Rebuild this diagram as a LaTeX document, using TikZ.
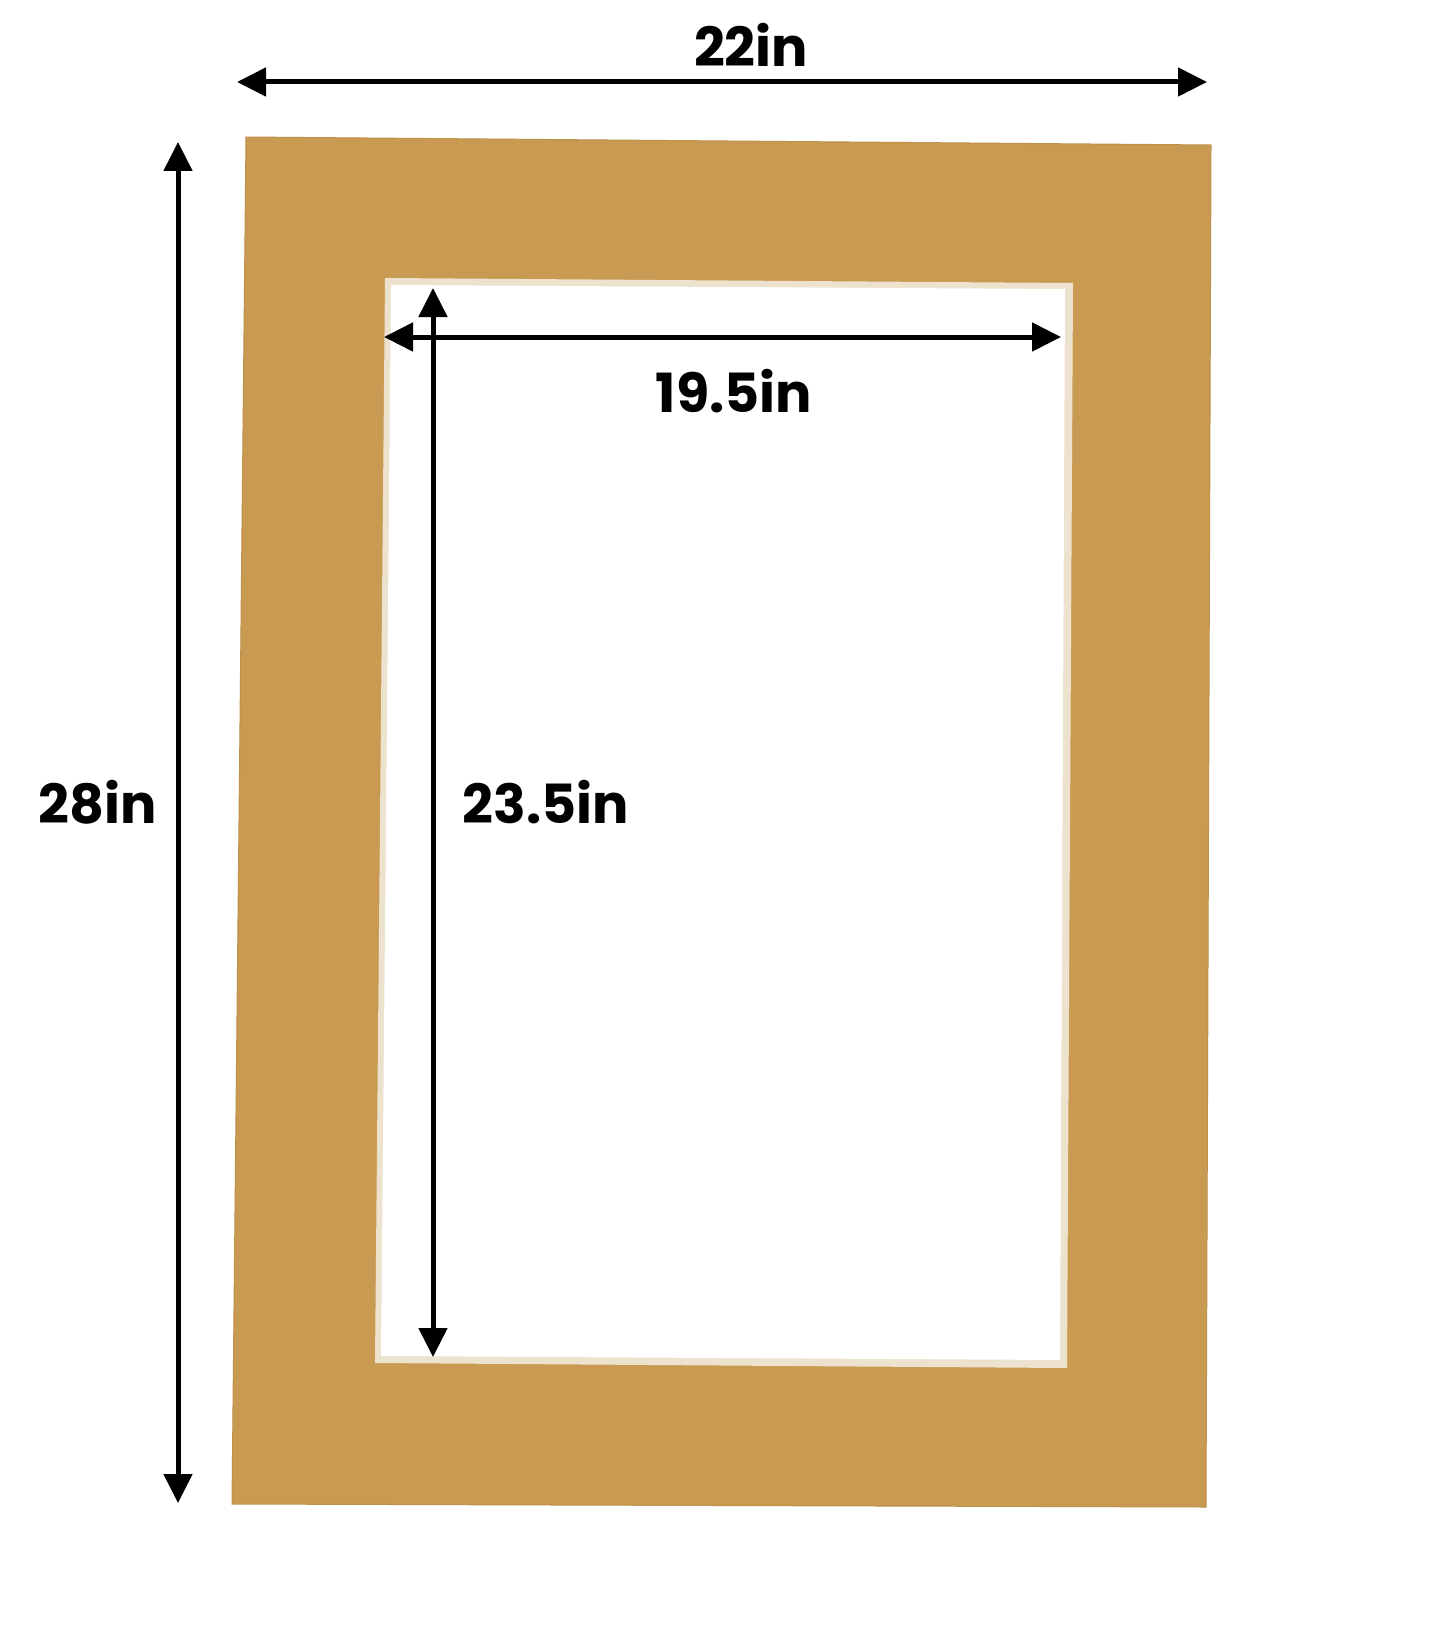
\documentclass[tikz,border=0pt]{standalone}
\usepackage{fontspec}
\setmainfont{Poppins}
\usetikzlibrary{arrows.meta}
\definecolor{matcol}{RGB}{201,154,82}
\definecolor{matedge}{RGB}{190,145,75}
\definecolor{creamcol}{RGB}{236,226,206}
\tikzset{
  dimarrow/.style={line width=5pt, black, {Triangle[length=29pt,width=28pt]}-{Triangle[length=29pt,width=28pt]}},
  dimlabel/.style={font=\fontsize{54}{60}\selectfont\bfseries, text=black, inner sep=0pt, anchor=center},
}
\begin{document}
\begin{tikzpicture}[x=1pt,y=-1pt]
\useasboundingbox (0,0) rectangle (1445,1645);
\fill[white] (0,0) rectangle (1445,1645);
% mat
\fill[matcol, draw=matedge, line width=1pt] (246,137) -- (1211,145) -- (1206,1507) -- (232,1504) -- cycle;
% opening with cream bevel
\fill[creamcol] (385,278) -- (1073,283) -- (1067,1368) -- (375,1363) -- cycle;
\fill[white] (391,285) -- (1065,289) -- (1060,1360) -- (381,1356) -- cycle;
% coordinates
\coordinate (topL) at (237,82);
\coordinate (topR) at (1207,82);
\coordinate (sideT) at (178,142);
\coordinate (sideB) at (178,1503);
\coordinate (inHL) at (384,337);
\coordinate (inHR) at (1061,337);
\coordinate (inVT) at (433,288);
\coordinate (inVB) at (433,1357);
% arrows
\draw[dimarrow] (topL) -- (topR);
\draw[dimarrow] (sideT) -- (sideB);
\draw[dimarrow] (inHL) -- (inHR);
\draw[dimarrow] (inVT) -- (inVB);
% labels
\node[dimlabel] (w22) at (751,45) {22in};
\node[dimlabel] (h28) at (98,802) {28in};
\node[dimlabel] (w195) at (734,391) {19.5in};
\node[dimlabel] (h235) at (546,802) {23.5in};
\end{tikzpicture}
\end{document}
